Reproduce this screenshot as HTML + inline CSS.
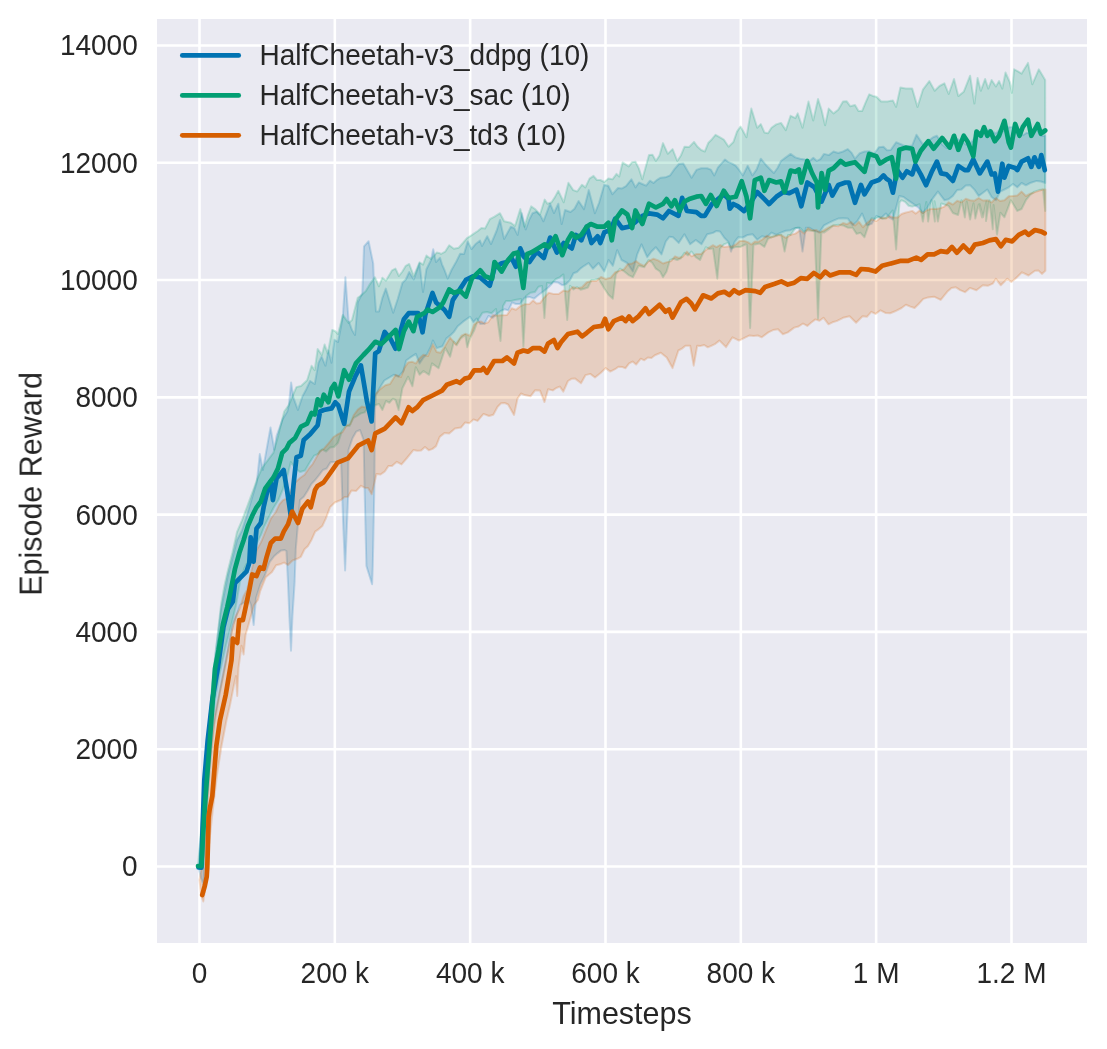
<!DOCTYPE html>
<html><head><meta charset="utf-8"><style>
html,body{margin:0;padding:0;background:#fff;width:1107px;height:1049px;overflow:hidden;}
svg{display:block;font-family:"Liberation Sans",sans-serif;will-change:transform;}
</style></head><body>
<svg width="1107" height="1049" viewBox="0 0 1107 1049" font-family="'Liberation Sans', sans-serif" fill="#262626">
<defs><clipPath id="c"><rect x="157" y="19" width="930" height="924"/></clipPath></defs>
<rect x="157" y="19" width="930" height="924" fill="#EAEAF2"/>
<line x1="199.50" y1="19" x2="199.50" y2="943" stroke="#fff" stroke-width="2.6"/>
<line x1="334.83" y1="19" x2="334.83" y2="943" stroke="#fff" stroke-width="2.6"/>
<line x1="470.16" y1="19" x2="470.16" y2="943" stroke="#fff" stroke-width="2.6"/>
<line x1="605.49" y1="19" x2="605.49" y2="943" stroke="#fff" stroke-width="2.6"/>
<line x1="740.82" y1="19" x2="740.82" y2="943" stroke="#fff" stroke-width="2.6"/>
<line x1="876.15" y1="19" x2="876.15" y2="943" stroke="#fff" stroke-width="2.6"/>
<line x1="1011.48" y1="19" x2="1011.48" y2="943" stroke="#fff" stroke-width="2.6"/>
<line x1="157" y1="866.50" x2="1087" y2="866.50" stroke="#fff" stroke-width="2.6"/>
<line x1="157" y1="749.21" x2="1087" y2="749.21" stroke="#fff" stroke-width="2.6"/>
<line x1="157" y1="631.92" x2="1087" y2="631.92" stroke="#fff" stroke-width="2.6"/>
<line x1="157" y1="514.63" x2="1087" y2="514.63" stroke="#fff" stroke-width="2.6"/>
<line x1="157" y1="397.34" x2="1087" y2="397.34" stroke="#fff" stroke-width="2.6"/>
<line x1="157" y1="280.05" x2="1087" y2="280.05" stroke="#fff" stroke-width="2.6"/>
<line x1="157" y1="162.76" x2="1087" y2="162.76" stroke="#fff" stroke-width="2.6"/>
<line x1="157" y1="45.47" x2="1087" y2="45.47" stroke="#fff" stroke-width="2.6"/>
<g clip-path="url(#c)">
<polygon points="198.5,867.0 202.0,820.0 205.0,775.0 208.0,735.0 212.0,690.0 216.0,650.0 221.0,610.0 224.5,592.2 228.0,575.0 232.5,557.9 237.0,540.0 242.0,530.5 247.0,515.0 251.9,498.3 256.8,482.0 259.8,454.1 262.9,470.0 266.7,448.8 270.5,427.5 274.3,449.6 276.6,435.9 282.7,419.1 287.3,411.5 288.8,405.4 291.1,382.5 293.4,397.7 297.9,409.9 302.5,396.2 306.3,389.2 310.1,381.0 314.7,384.0 318.5,362.7 321.6,356.6 325.4,365.7 328.4,350.5 331.5,362.7 334.5,339.8 338.0,342.0 341.7,323.0 342.9,315.0 345.4,277.2 348.6,320.7 352.0,330.0 355.0,335.0 357.7,302.4 362.3,293.2 364.0,246.3 368.6,241.2 373.2,263.5 374.0,284.0 376.0,311.5 378.9,311.5 382.4,297.8 385.8,288.6 389.5,300.7 393.2,312.7 397.8,298.7 402.4,282.9 405.8,279.5 409.2,272.0 413.8,279.5 419.5,263.5 423.0,292.0 426.4,269.2 431.0,260.0 433.2,249.2 436.0,262.0 440.0,257.7 442.0,264.3 444.5,270.0 447.7,278.6 451.5,270.0 456.3,261.5 460.1,253.8 464.0,254.0 467.7,241.4 471.5,249.0 475.3,244.3 480.0,240.5 482.0,246.0 487.2,236.2 491.0,244.0 496.7,230.5 500.0,220.0 504.1,238.9 510.8,226.7 514.2,228.0 517.6,234.9 521.7,213.2 525.7,229.4 529.1,219.9 532.5,213.2 536.6,211.7 540.7,215.9 543.4,221.3 550.1,203.7 554.0,213.0 558.3,203.7 561.7,224.0 565.0,210.0 570.5,212.0 574.5,208.7 578.6,201.0 584.0,209.1 588.8,190.1 594.9,213.2 599.0,203.0 604.3,184.7 608.4,186.0 612.5,194.2 618.0,188.0 622.0,188.4 626.0,186.1 631.4,179.3 635.5,187.4 638.9,182.5 642.3,184.0 646.1,185.7 650.0,180.7 653.5,183.0 657.1,179.8 660.6,177.7 665.4,177.3 670.2,175.3 674.6,168.9 678.9,164.0 683.3,163.4 687.5,170.7 691.6,177.7 696.4,169.9 701.2,168.2 707.2,168.2 710.8,169.6 714.3,175.4 717.9,167.6 721.5,163.4 725.0,159.5 728.6,162.2 732.2,163.7 735.8,165.8 739.3,170.2 742.9,175.4 747.7,165.8 752.4,175.4 756.6,169.4 760.8,158.7 766.7,165.8 770.3,169.5 773.9,173.0 777.5,168.0 781.0,161.0 785.8,157.4 790.6,153.9 795.4,157.4 800.1,158.7 804.9,159.6 809.7,161.0 813.3,157.7 816.9,160.9 820.4,159.1 824.0,153.9 828.8,155.1 833.5,151.5 838.2,153.0 843.0,151.5 847.8,149.1 851.4,152.6 855.0,158.7 859.8,153.2 864.5,151.5 869.2,151.2 874.0,153.9 878.8,147.3 883.5,146.7 887.1,150.2 890.7,150.0 896.1,142.3 901.5,144.4 905.7,146.5 912.2,145.5 916.5,134.7 922.9,144.4 929.3,140.1 933.1,137.3 936.9,135.8 942.2,144.4 946.5,147.9 950.8,146.5 957.2,139.0 961.5,140.9 965.8,144.4 970.1,144.4 974.4,138.0 980.8,131.5 985.1,132.9 989.4,129.4 995.9,133.7 1000.1,129.1 1004.4,131.5 1008.7,127.3 1013.0,127.2 1019.5,131.5 1023.1,135.1 1026.6,132.8 1030.2,133.7 1036.6,129.4 1040.9,136.0 1045.2,135.8 1045.2,183.0 1040.9,181.5 1036.6,180.9 1030.2,183.0 1025.9,185.3 1021.6,183.0 1017.3,187.3 1013.0,184.0 1008.7,187.3 1004.5,189.5 1000.2,191.6 995.9,200.2 991.6,197.0 987.3,189.5 983.0,192.8 978.7,195.9 974.4,189.6 970.1,185.2 965.8,185.5 961.5,189.5 957.2,190.0 952.9,195.9 948.6,199.3 944.4,200.2 937.9,191.6 931.5,200.2 927.2,207.9 922.9,213.0 918.6,207.8 914.3,204.5 907.9,200.2 903.6,197.0 899.3,195.9 892.9,219.5 889.4,217.6 885.9,213.5 881.1,218.0 876.4,215.9 871.6,223.9 866.9,225.4 862.1,213.5 857.4,221.0 852.6,225.4 847.8,218.6 843.0,218.3 838.2,218.6 833.5,220.6 828.8,222.8 824.0,225.4 819.2,232.6 814.5,230.9 809.7,227.8 805.9,227.8 802.5,251.6 799.1,227.8 797.7,227.8 794.2,228.4 790.6,230.2 785.8,230.7 781.0,232.6 776.2,234.8 771.5,232.6 766.7,237.3 762.0,236.2 757.2,239.7 752.5,234.2 747.7,234.9 742.9,237.5 738.1,237.3 734.5,242.1 731.0,251.6 728.6,242.1 724.3,237.7 720.0,231.5 716.5,230.9 713.0,232.9 707.2,234.3 701.5,244.3 695.8,240.0 690.1,244.3 684.4,234.3 678.7,242.9 673.0,237.2 669.4,236.8 665.8,241.5 661.5,254.4 655.8,247.2 651.5,251.5 647.2,257.2 641.5,244.4 637.2,254.4 632.9,271.5 627.2,263.0 621.5,260.0 617.2,250.1 612.9,265.8 608.6,260.0 604.3,271.5 598.6,263.0 592.9,268.7 588.6,263.0 584.3,265.8 580.6,268.4 577.0,272.0 573.5,273.3 570.0,280.1 566.0,284.1 562.1,285.2 558.1,282.6 553.4,282.1 548.6,287.3 543.9,291.0 539.1,294.5 534.3,298.6 529.5,296.9 524.8,297.4 520.0,304.0 515.9,304.0 512.1,302.6 508.3,310.4 504.5,309.3 500.7,310.9 496.9,314.0 492.7,317.8 488.5,316.0 484.4,323.7 480.2,324.0 476.8,318.5 473.4,322.0 470.0,316.7 463.4,321.4 457.7,326.2 453.9,331.9 451.0,334.8 446.3,338.6 442.5,346.2 436.7,348.1 432.9,340.5 431.0,346.2 427.2,353.9 423.4,357.7 419.6,363.4 415.8,353.9 410.0,357.7 406.2,360.5 403.4,371.0 398.6,376.7 393.8,374.8 389.1,377.7 384.3,380.5 379.5,388.2 376.0,395.0 375.0,410.0 374.4,486.0 372.8,566.0 372.1,584.3 366.4,566.0 364.5,486.0 363.6,440.0 360.0,430.0 356.3,431.6 352.6,438.0 348.5,450.0 348.1,497.0 345.1,570.5 343.0,520.0 341.2,463.0 337.8,462.1 334.3,462.0 330.5,462.2 326.7,468.5 322.9,470.0 319.1,475.1 315.2,480.0 311.4,484.0 307.6,490.7 303.8,496.8 300.0,500.0 295.8,549.0 294.6,583.0 292.4,617.0 291.0,650.8 289.4,617.0 288.0,583.0 286.4,551.0 284.6,550.0 281.2,550.4 277.7,553.1 274.3,556.0 269.6,562.1 265.0,575.0 260.5,584.0 256.0,598.0 253.7,625.0 251.0,605.0 248.0,598.0 244.0,602.7 240.0,605.0 236.4,616.1 232.9,625.0 229.4,643.3 226.0,662.0 220.0,692.0 214.0,725.0 210.0,765.0 207.0,805.0 205.0,855.0 203.5,885.0 201.0,878.0 198.5,867.0" fill="#0173B2" fill-opacity="0.2" stroke="#0173B2" stroke-opacity="0.2" stroke-width="2.0" stroke-linejoin="round"/>
<polygon points="198.0,866.0 201.0,830.0 204.0,790.0 207.0,750.0 210.0,712.0 213.0,675.0 217.0,640.0 221.0,605.0 224.5,585.2 228.0,570.0 232.5,552.3 237.0,532.0 242.0,520.4 247.0,507.0 250.5,497.4 254.0,488.0 256.8,480.0 262.0,468.0 268.0,460.0 273.5,452.6 278.1,435.9 284.2,411.5 288.8,405.0 293.0,395.0 296.4,387.1 301.0,386.0 307.1,380.2 311.6,365.7 314.7,370.2 317.7,349.0 321.9,355.0 324.6,344.4 327.7,353.5 332.2,329.9 335.0,331.0 338.0,334.0 342.9,315.0 348.6,323.0 352.0,320.0 357.7,297.8 361.0,295.5 365.8,291.0 369.2,285.2 374.9,277.2 378.9,286.3 382.3,277.8 386.0,280.6 392.1,270.3 395.5,268.6 398.9,276.0 402.4,271.5 405.8,265.8 409.2,264.0 413.8,276.0 419.5,262.3 423.0,264.6 426.4,255.5 431.0,259.0 436.7,252.6 440.0,253.2 441.0,254.0 445.1,251.7 449.2,245.3 453.9,248.7 458.7,247.7 462.9,243.0 467.0,238.1 470.6,235.8 474.2,233.4 477.8,231.0 481.4,228.0 485.0,228.6 489.8,219.2 494.5,216.7 500.0,213.2 504.1,221.3 510.8,222.7 515.0,226.0 520.3,209.1 524.4,226.7 527.8,215.6 531.2,206.4 535.0,209.0 540.0,214.5 544.7,199.6 547.4,203.7 551.5,202.3 554.9,197.1 558.3,190.8 563.7,202.3 568.4,182.7 573.2,190.1 577.2,191.5 582.0,184.7 585.4,187.4 589.5,178.6 593.5,175.9 596.9,180.0 600.3,180.0 604.3,182.0 608.4,178.6 612.5,179.3 616.5,173.9 619.2,176.6 622.6,162.4 628.7,166.4 632.1,162.2 635.5,161.7 638.9,168.6 642.3,179.3 649.0,154.9 652.5,154.7 655.9,161.0 659.5,155.5 663.0,143.1 667.8,153.8 672.6,149.1 677.3,161.0 680.9,155.5 684.5,146.7 689.2,146.9 694.0,141.9 697.6,146.8 701.2,150.0 704.8,151.5 708.4,142.7 711.9,139.2 715.5,134.8 719.6,137.2 723.8,139.6 728.6,146.7 733.4,142.0 737.0,131.6 740.5,126.5 746.5,137.2 751.3,108.6 757.2,127.7 760.8,124.1 764.4,132.4 768.0,133.2 771.5,127.7 776.2,124.4 781.0,122.9 785.8,130.1 790.6,115.8 795.4,118.1 797.7,113.4 802.5,127.7 808.5,101.5 813.2,120.5 818.0,99.1 821.5,109.8 825.1,125.3 828.7,108.6 833.5,113.4 838.2,109.7 843.0,101.5 846.6,101.2 850.2,106.2 855.0,105.0 858.5,111.0 862.1,111.0 865.7,102.3 869.2,94.3 872.8,95.9 876.4,96.7 881.2,101.5 887.5,101.5 892.9,100.4 896.1,106.9 900.4,87.5 905.7,88.6 912.2,88.6 917.5,106.9 922.9,89.7 929.3,81.1 934.7,90.8 939.5,86.0 944.4,83.3 948.7,94.0 954.0,79.0 958.3,96.1 963.7,91.8 970.1,75.7 974.4,103.6 977.6,77.9 980.8,90.8 985.1,79.0 988.3,88.6 991.6,80.0 995.9,86.5 999.1,81.1 1002.3,88.6 1005.5,72.5 1009.8,82.2 1011.9,92.9 1014.1,69.3 1017.9,71.3 1021.6,73.6 1028.0,62.9 1032.3,84.3 1038.8,69.3 1045.2,80.0 1045.2,210.9 1043.0,189.5 1038.8,190.1 1034.5,191.6 1030.2,194.9 1025.9,200.2 1021.6,209.0 1017.3,210.9 1010.9,200.2 1004.4,217.3 1000.4,212.7 997.0,234.5 993.6,205.0 992.8,229.3 989.4,200.2 986.0,221.0 986.4,201.4 983.0,217.3 979.6,204.1 982.1,217.5 978.7,204.5 975.3,218.6 973.5,203.2 970.1,219.5 966.7,201.5 964.9,217.5 961.5,200.2 958.1,215.0 952.9,213.0 948.6,205.9 944.4,204.5 941.3,203.5 937.9,221.6 934.5,201.2 934.9,221.6 931.5,200.2 928.1,221.6 926.3,201.9 922.9,221.6 919.5,204.2 915.9,205.6 912.2,206.6 908.6,205.7 905.1,201.9 901.5,200.2 899.5,202.5 896.1,249.5 892.7,210.4 889.3,214.7 885.9,218.3 882.3,219.0 878.8,216.9 875.2,218.9 871.6,218.3 868.0,226.9 864.5,237.3 860.5,232.8 856.6,233.9 852.6,227.8 847.8,227.7 843.0,225.4 838.2,224.8 833.5,225.4 828.8,229.1 824.0,232.6 821.4,232.2 818.0,318.4 814.6,231.2 811.0,230.8 807.3,230.2 803.7,232.0 800.1,227.8 795.4,228.1 790.6,234.9 788.0,234.9 784.6,251.6 781.2,234.9 778.7,234.9 775.1,236.3 771.5,237.3 768.0,238.9 764.4,246.9 759.6,243.5 754.8,244.5 753.5,244.5 750.1,327.9 746.7,244.5 745.3,244.5 740.5,246.9 735.8,246.9 731.8,248.4 727.8,242.8 723.8,244.5 720.0,248.6 717.3,278.7 713.0,248.6 709.4,249.0 705.8,247.2 700.0,260.0 695.8,257.2 691.5,251.5 688.0,255.4 684.4,252.9 680.8,258.4 677.2,260.0 673.6,258.7 670.0,260.0 666.5,271.8 663.0,277.2 660.0,271.5 655.8,268.7 652.2,262.7 648.6,260.0 644.3,267.2 638.6,265.8 632.9,277.2 628.6,275.1 624.3,271.5 620.0,268.7 615.8,274.4 612.9,298.7 608.5,294.7 604.0,288.0 598.6,278.7 595.0,279.8 591.5,280.0 587.9,287.6 584.3,288.7 580.6,289.8 577.0,287.0 573.5,289.5 570.0,285.8 567.2,320.0 563.4,274.4 559.7,277.3 556.0,279.0 551.5,283.4 547.0,283.0 544.4,318.0 542.0,286.0 538.5,286.8 535.0,292.0 530.5,292.7 526.0,296.0 523.4,346.8 521.0,299.0 515.0,300.0 510.5,301.1 506.0,301.0 503.0,306.0 500.5,341.0 496.0,309.0 491.5,313.2 487.0,312.0 482.5,312.8 478.0,320.0 474.0,330.8 470.0,338.6 467.2,347.2 465.3,334.8 460.6,338.6 456.7,345.3 453.9,341.5 450.1,356.7 445.3,348.1 438.6,368.2 432.0,363.4 429.1,374.8 423.5,371.0 419.6,374.8 415.8,367.2 412.4,386.3 408.1,376.7 402.4,388.2 398.6,410.0 395.5,400.0 392.9,398.7 389.4,402.8 386.0,401.0 382.4,410.0 379.0,404.0 375.7,405.0 372.1,406.8 368.6,406.0 364.7,412.4 360.9,413.4 357.0,416.0 353.3,418.1 349.7,425.9 346.0,426.0 342.0,431.1 338.0,442.7 334.0,447.0 330.1,447.6 326.1,451.5 322.2,449.4 318.3,453.8 314.1,455.7 310.0,462.0 305.0,470.5 300.0,472.0 295.0,468.0 290.8,462.0 287.9,474.3 283.2,488.6 278.4,500.0 273.6,507.7 268.8,517.2 264.1,526.8 261.2,534.4 256.0,545.0 252.3,549.2 248.6,560.0 244.3,568.5 240.0,582.0 236.0,605.2 232.0,622.0 226.0,645.0 220.0,672.0 215.0,700.0 211.0,735.0 208.0,770.0 205.0,810.0 203.0,850.0 201.0,868.0 198.0,866.0" fill="#029E73" fill-opacity="0.2" stroke="#029E73" stroke-opacity="0.2" stroke-width="2.0" stroke-linejoin="round"/>
<polygon points="199.5,880.0 203.0,860.0 205.0,840.0 207.0,805.0 209.0,770.0 212.0,740.0 215.0,715.0 220.0,690.0 226.0,660.0 232.0,630.0 236.0,615.6 240.0,608.0 243.5,596.3 247.0,590.0 251.8,569.2 256.7,550.0 261.4,541.3 266.0,530.0 270.9,518.5 275.8,512.0 279.4,504.3 283.0,500.1 286.5,498.8 290.1,492.0 295.1,482.5 300.0,478.0 304.6,474.7 309.2,468.0 312.6,464.1 316.0,458.0 319.8,451.0 323.5,449.1 328.5,443.3 333.5,437.0 338.1,434.1 342.6,432.0 346.3,425.7 350.1,424.1 353.8,415.0 357.8,409.6 361.8,406.6 365.8,407.4 370.8,403.7 375.7,393.9 380.5,388.9 385.3,385.3 390.0,384.0 395.7,374.8 401.0,377.0 404.6,367.6 408.1,362.4 412.0,361.7 415.8,363.4 419.6,358.2 423.4,354.8 428.0,356.0 432.9,344.3 436.7,352.0 440.5,352.8 444.4,347.2 450.1,337.6 455.8,344.3 461.5,335.7 465.3,333.8 470.0,335.7 474.1,324.6 477.6,322.0 481.1,321.5 484.7,323.5 488.2,322.3 492.9,315.2 497.6,315.5 502.3,315.2 507.0,314.9 511.7,308.2 515.9,309.7 520.0,306.4 524.8,304.2 529.5,304.0 533.1,300.4 536.6,303.4 540.2,302.9 543.8,298.0 548.8,292.8 553.9,294.1 558.6,294.0 563.3,290.6 568.0,291.4 572.7,287.0 577.4,288.2 582.0,287.3 586.8,282.2 591.5,281.0 596.2,281.1 601.0,277.0 605.8,279.0 610.6,277.8 615.4,272.1 620.1,270.6 624.1,269.2 628.0,263.9 632.0,263.5 636.0,261.1 640.0,264.0 644.0,265.9 648.8,261.1 653.5,258.7 658.2,260.4 663.0,263.5 667.0,262.1 671.0,261.1 675.0,256.3 679.0,258.0 682.9,256.5 686.9,251.6 691.6,256.3 696.4,254.0 701.1,254.0 705.9,250.0 709.4,247.4 713.0,245.2 716.5,247.1 720.0,245.0 723.8,246.9 727.8,246.4 731.8,246.5 735.8,244.5 739.8,240.9 743.7,240.7 747.7,242.1 751.3,244.4 754.9,241.6 758.4,241.7 762.0,239.7 766.8,235.7 771.5,237.3 776.2,235.4 781.0,234.9 785.8,237.8 790.6,234.9 795.4,233.6 800.1,230.2 804.1,233.6 808.0,228.1 812.0,230.2 816.0,229.9 820.0,232.3 824.0,230.2 828.8,227.4 833.5,225.4 838.2,226.2 843.0,223.0 847.0,224.2 851.0,221.9 855.0,225.4 859.0,221.8 862.9,227.2 866.9,223.0 871.6,219.3 876.4,221.0 881.1,217.5 885.9,218.3 889.8,216.1 893.7,217.6 897.6,217.6 901.5,214.0 905.1,212.8 908.6,211.9 912.2,210.9 915.8,213.6 919.3,210.7 922.9,213.0 927.2,210.0 931.5,208.8 935.8,208.9 940.1,208.3 944.4,206.6 948.6,202.3 952.9,204.5 957.2,200.7 961.5,202.3 965.8,198.7 970.1,200.2 974.4,200.7 978.7,198.0 983.0,200.5 987.3,200.2 991.6,202.4 995.9,198.0 1000.1,201.0 1004.4,200.2 1008.7,196.3 1013.0,195.9 1017.3,195.6 1021.6,191.6 1025.9,196.0 1030.2,193.7 1036.6,191.6 1043.0,189.5 1045.4,189.5 1045.4,270.7 1041.9,273.9 1038.5,270.6 1035.0,270.7 1028.5,275.5 1022.0,272.3 1015.4,278.8 1011.3,282.0 1007.3,278.8 1000.8,285.3 995.9,278.8 992.7,283.7 987.8,285.8 982.9,285.3 976.4,290.2 969.9,287.9 965.0,292.2 960.2,290.2 955.9,287.3 951.5,288.0 947.2,291.8 940.7,299.9 934.1,296.7 927.6,297.6 923.3,298.9 918.9,303.7 914.6,308.0 910.3,306.6 905.9,304.8 901.6,308.0 895.1,311.3 890.2,313.2 885.4,312.9 880.5,310.3 875.6,313.9 871.3,311.8 866.9,316.8 862.6,316.2 856.1,322.7 849.6,316.2 843.1,317.8 836.6,321.1 832.5,322.3 828.5,324.3 823.6,317.8 819.5,320.8 815.4,319.4 811.3,322.5 807.3,325.9 803.0,323.5 798.6,326.5 794.3,327.6 787.8,332.4 782.9,334.2 778.0,329.2 773.1,330.1 768.3,332.4 761.8,337.3 757.7,335.5 753.6,336.1 749.6,335.4 745.5,337.3 739.0,340.6 732.5,337.3 726.0,347.1 719.5,340.6 715.4,343.8 711.3,345.8 707.8,347.3 704.2,345.0 700.7,345.9 697.2,345.8 693.7,365.7 690.2,345.8 685.5,345.8 682.0,348.6 678.4,350.5 672.5,368.1 666.7,357.5 660.8,352.8 654.9,355.2 651.4,358.0 647.9,357.5 644.3,360.3 640.8,358.7 636.1,364.5 632.6,361.6 629.1,363.4 625.5,368.2 622.0,366.9 618.5,366.7 615.0,369.2 610.3,371.6 605.6,368.1 600.9,372.8 595.0,377.5 590.3,373.9 585.6,375.1 581.0,383.3 575.1,378.6 571.5,378.8 568.0,381.0 563.3,391.6 559.8,386.6 556.3,388.0 552.8,390.4 548.1,389.2 544.5,402.1 539.9,390.4 535.2,390.2 530.5,396.3 524.6,395.1 521.0,393.5 517.5,398.6 514.0,415.0 508.1,404.5 504.6,402.9 501.1,403.3 497.6,406.8 493.3,414.7 489.0,416.0 483.5,413.9 477.6,420.9 473.5,419.4 469.4,423.3 465.2,422.4 461.1,427.4 455.0,428.5 449.2,433.4 444.4,433.1 439.7,436.9 436.1,446.1 432.5,448.9 428.8,450.3 425.0,447.0 421.1,450.4 417.3,450.7 413.4,450.1 407.0,458.0 401.5,464.4 396.8,461.8 392.0,466.0 388.4,466.1 384.8,471.5 380.6,474.5 376.5,473.9 371.7,494.2 368.1,487.9 364.6,487.7 361.0,485.8 356.2,490.9 351.5,490.6 348.0,496.8 344.5,497.0 341.0,500.0 334.8,502.5 330.0,507.3 325.9,518.3 322.3,526.1 318.8,529.1 315.2,531.6 311.6,539.7 308.0,546.0 304.5,549.2 300.9,556.8 297.3,558.8 292.6,560.5 288.0,565.0 284.1,562.6 280.1,564.3 276.1,565.2 272.0,572.0 265.8,577.2 260.1,591.5 257.9,600.0 254.0,605.0 252.0,612.0 248.6,624.4 245.5,635.0 243.6,654.4 241.5,645.8 238.5,668.0 237.2,695.9 236.0,676.0 234.0,685.0 230.0,705.0 226.5,720.3 221.5,746.0 217.0,775.0 212.9,808.9 209.0,845.0 207.2,872.0 205.0,890.0 203.3,901.4 201.0,895.0 199.5,880.0" fill="#D55E00" fill-opacity="0.2" stroke="#D55E00" stroke-opacity="0.2" stroke-width="2.0" stroke-linejoin="round"/>
<polyline points="198.5,867.5 201.4,867.6 202.5,830.0 204.3,780.3 207.7,740.2 212.3,700.0 218.0,667.0 223.5,627.0 228.0,609.0 232.9,601.5 235.0,583.1 240.7,577.4 246.4,571.7 249.3,563.1 250.7,537.3 253.6,561.6 256.5,528.7 260.8,523.0 263.6,507.3 267.9,488.7 270.8,481.5 272.9,500.1 276.5,478.6 283.7,470.1 287.0,490.0 290.8,515.8 293.5,485.0 296.5,457.2 300.8,455.7 303.7,440.0 310.1,434.3 317.7,425.2 320.0,411.5 323.8,410.0 331.5,408.4 335.3,402.3 338.3,405.4 344.2,423.8 349.0,391.6 354.9,377.3 360.9,365.4 366.9,401.2 371.6,421.4 375.2,353.5 378.8,351.1 384.7,332.0 390.7,339.2 395.5,348.7 403.9,319.2 408.7,313.2 418.2,313.2 422.5,332.3 425.4,314.4 432.5,293.0 436.1,302.5 444.4,309.7 449.2,316.8 452.8,300.1 459.0,290.6 465.9,279.9 473.0,276.3 480.2,277.5 489.7,285.8 494.5,268.0 501.6,263.2 507.0,262.0 511.2,257.2 515.9,266.7 520.3,248.4 523.7,256.5 529.5,262.0 536.7,251.6 543.8,258.0 550.1,237.6 556.9,252.5 563.7,243.0 571.8,248.4 575.9,234.9 581.3,240.3 586.7,226.7 591.5,243.0 597.6,236.2 600.3,243.0 604.3,232.2 610.6,230.0 615.2,218.6 622.0,228.1 628.7,226.7 635.5,222.0 642.3,215.9 649.0,213.4 657.1,214.6 663.0,218.2 669.0,211.0 678.5,215.8 682.1,197.9 686.9,211.0 696.4,212.2 701.2,215.8 704.8,215.9 711.9,204.0 723.8,194.4 728.6,199.2 729.8,208.7 733.4,204.0 738.1,206.3 744.1,211.1 751.3,201.6 757.2,192.0 764.4,199.2 769.1,204.0 776.3,196.8 783.4,192.0 789.4,193.2 796.5,189.7 801.3,206.3 807.3,182.5 814.4,187.3 821.6,201.6 828.7,184.9 832.3,195.6 838.3,184.9 845.4,182.5 849.0,182.5 855.0,202.8 860.9,184.9 864.5,194.4 871.6,182.5 878.8,180.1 883.5,175.4 886.4,178.7 889.7,180.9 892.9,192.7 897.2,170.1 902.5,177.7 906.8,171.2 912.2,174.4 915.4,164.8 920.8,174.4 926.1,185.2 931.5,172.3 936.9,161.6 941.1,173.4 946.5,174.4 952.9,180.9 958.3,165.9 964.7,170.1 968.0,170.1 973.3,159.4 979.8,173.4 987.3,161.6 991.6,174.4 994.8,173.4 998.0,191.6 1002.3,163.7 1004.4,177.7 1008.7,165.9 1015.2,168.0 1017.3,170.1 1021.6,161.6 1028.0,158.3 1031.3,166.9 1034.5,157.3 1038.8,166.9 1041.3,155.1 1044.8,170.1" fill="none" stroke="#0173B2" stroke-width="4.7" stroke-linejoin="round" stroke-linecap="round"/>
<polyline points="198.0,866.1 201.4,866.1 202.9,837.5 205.7,794.6 208.6,757.4 211.5,717.3 215.0,668.7 218.6,650.0 222.9,624.4 227.2,607.2 230.0,594.3 235.0,568.8 239.3,553.1 243.6,540.2 247.9,525.9 252.2,515.8 256.5,507.3 260.8,501.5 265.1,488.7 269.3,482.9 273.6,477.2 277.9,468.6 282.2,452.9 286.5,448.6 289.4,442.9 295.1,438.0 301.0,426.7 307.1,423.7 311.6,413.0 314.7,414.5 317.7,399.3 320.8,405.4 323.8,394.7 328.4,402.3 331.5,388.6 334.5,384.0 338.3,396.4 344.2,370.2 349.0,379.7 356.1,363.0 363.4,355.0 368.1,350.2 375.3,341.8 381.3,344.2 388.4,337.1 395.6,329.9 399.1,349.0 403.9,331.1 408.7,321.6 413.4,331.1 417.0,316.8 424.2,313.2 427.7,309.7 432.5,312.0 439.7,307.3 443.2,302.5 449.2,289.4 454.0,293.0 459.9,290.6 465.9,296.5 471.8,278.7 480.2,270.3 485.0,276.3 492.1,278.7 494.5,262.0 501.6,271.5 508.1,260.0 513.6,253.6 517.6,252.5 523.3,288.0 527.2,254.0 531.2,252.5 537.9,248.4 544.7,244.3 548.8,247.0 555.6,236.2 562.3,255.2 567.8,240.3 571.8,233.5 575.9,237.6 581.3,234.9 586.7,226.7 590.8,224.0 597.6,226.7 604.3,226.7 608.4,222.7 611.8,240.3 615.2,219.9 622.0,210.5 627.4,214.5 632.1,228.1 635.5,210.5 642.3,224.0 649.0,203.7 655.9,207.5 663.0,203.9 666.6,199.1 671.4,206.3 674.9,200.3 679.7,211.0 684.5,201.5 689.2,199.1 696.4,196.7 701.2,196.0 705.9,203.9 710.7,195.0 716.7,206.0 723.8,190.8 728.6,198.0 735.8,196.8 741.7,181.3 746.5,196.8 750.1,218.3 754.8,180.1 760.8,177.7 764.4,190.8 769.1,180.1 776.3,182.5 781.0,181.3 784.6,192.0 790.6,170.6 795.4,171.8 798.9,169.4 801.3,182.5 807.3,161.0 812.0,173.0 816.8,182.5 818.0,207.5 821.6,173.0 825.1,189.7 828.7,170.6 833.5,168.2 840.6,161.0 845.4,164.6 850.2,163.4 854.9,162.2 864.5,171.8 869.2,153.9 876.4,156.3 880.0,163.5 886.4,159.4 891.8,157.3 896.1,178.7 899.3,149.8 905.7,147.6 912.2,148.7 915.4,161.6 920.8,150.8 928.3,141.2 933.6,148.7 942.2,138.0 949.7,147.6 954.0,135.8 958.3,149.8 963.7,135.8 968.0,142.3 973.3,156.2 976.5,131.5 980.8,135.8 984.1,127.2 987.3,135.8 990.5,131.5 994.8,141.2 999.1,135.8 1004.4,120.8 1008.7,142.3 1010.9,147.6 1015.2,124.0 1019.5,135.8 1022.7,127.2 1028.0,119.7 1031.3,135.8 1037.7,124.0 1040.9,133.7 1045.2,130.5" fill="none" stroke="#029E73" stroke-width="4.7" stroke-linejoin="round" stroke-linecap="round"/>
<polyline points="202.2,895.0 204.9,885.5 206.7,876.8 207.3,866.8 208.0,842.0 208.6,817.2 209.8,808.5 212.3,796.1 216.3,746.0 220.0,720.2 225.8,694.4 231.5,660.1 232.9,638.7 237.2,642.9 239.2,620.1 242.9,620.1 249.3,590.1 252.2,574.5 256.5,576.0 260.0,567.4 263.6,568.8 266.5,557.4 270.8,543.0 275.1,538.7 280.8,538.7 283.7,531.6 288.0,524.4 292.2,511.6 298.0,523.0 302.3,508.7 308.0,501.5 310.8,507.3 315.0,490.1 317.5,486.1 323.5,482.5 330.3,473.0 337.5,462.7 347.9,458.4 358.6,445.3 368.1,440.5 371.7,450.1 375.3,433.4 384.8,428.6 395.6,417.4 401.5,423.3 408.7,407.3 412.2,411.0 417.0,407.4 423.0,400.2 432.5,395.5 442.0,390.7 446.8,384.7 456.3,381.2 460.0,383.0 464.7,378.6 469.4,377.5 474.1,370.4 481.1,370.4 483.5,368.1 487.0,372.8 494.1,361.0 502.3,361.0 507.0,357.5 514.0,363.4 517.5,352.8 523.4,350.5 528.1,351.6 532.8,348.1 539.9,348.1 544.5,351.6 548.1,343.4 553.9,339.9 557.5,348.1 561.0,342.2 568.0,334.0 577.4,331.7 582.1,336.4 586.8,332.8 593.9,327.0 602.1,325.8 605.1,318.8 608.4,329.3 613.8,321.1 622.0,317.6 625.6,321.1 629.1,316.4 632.6,321.1 638.5,316.4 645.5,308.2 649.1,314.1 659.6,304.7 665.5,311.7 669.0,309.4 672.5,317.6 680.8,302.3 686.6,298.8 691.3,303.5 694.9,309.4 703.1,295.3 711.3,298.5 717.9,293.4 724.4,291.8 729.3,295.0 734.1,290.2 739.0,293.4 745.5,290.2 755.3,291.1 760.2,292.8 765.0,286.9 774.8,283.7 781.3,281.4 787.8,284.6 794.3,282.7 800.8,278.1 807.3,278.8 813.8,272.9 820.3,277.2 825.2,271.6 830.1,275.5 839.8,272.3 849.6,272.3 856.1,274.9 861.0,269.0 869.1,269.7 875.6,271.6 882.1,265.8 891.9,263.2 900.0,260.9 908.1,260.9 916.3,257.6 921.1,259.9 927.6,254.4 934.1,254.4 940.7,251.1 947.2,252.1 952.0,246.9 956.9,252.8 963.4,245.6 969.9,252.1 974.8,244.6 982.9,243.0 989.4,240.4 995.9,239.1 1000.8,246.3 1005.7,239.8 1012.2,241.4 1018.7,234.9 1025.2,231.6 1028.5,234.9 1035.0,230.0 1041.5,231.6 1044.7,233.3" fill="none" stroke="#D55E00" stroke-width="4.7" stroke-linejoin="round" stroke-linecap="round"/>
</g>
<line x1="182.3" y1="55.4" x2="238.7" y2="55.4" stroke="#0173B2" stroke-width="4.7" stroke-linecap="round"/>
<text transform="translate(259.6,65.1) scale(1,1.04)" font-size="28">HalfCheetah-v3_ddpg (10)</text>
<line x1="182.3" y1="95.4" x2="238.7" y2="95.4" stroke="#029E73" stroke-width="4.7" stroke-linecap="round"/>
<text transform="translate(259.6,105.1) scale(1,1.04)" font-size="28">HalfCheetah-v3_sac (10)</text>
<line x1="182.3" y1="135.3" x2="238.7" y2="135.3" stroke="#D55E00" stroke-width="4.7" stroke-linecap="round"/>
<text transform="translate(259.6,144.9) scale(1,1.04)" font-size="28">HalfCheetah-v3_td3 (10)</text>
<text transform="translate(137.7,876.4) scale(1,1.04)" font-size="28" text-anchor="end">0</text>
<text transform="translate(137.7,759.1) scale(1,1.04)" font-size="28" text-anchor="end">2000</text>
<text transform="translate(137.7,641.8) scale(1,1.04)" font-size="28" text-anchor="end">4000</text>
<text transform="translate(137.7,524.5) scale(1,1.04)" font-size="28" text-anchor="end">6000</text>
<text transform="translate(137.7,407.2) scale(1,1.04)" font-size="28" text-anchor="end">8000</text>
<text transform="translate(137.7,289.9) scale(1,1.04)" font-size="28" text-anchor="end">10000</text>
<text transform="translate(137.7,172.7) scale(1,1.04)" font-size="28" text-anchor="end">12000</text>
<text transform="translate(137.7,55.4) scale(1,1.04)" font-size="28" text-anchor="end">14000</text>
<text transform="translate(199.5,982.7) scale(1,1.04)" font-size="28" text-anchor="middle">0</text>
<text transform="translate(334.8,982.7) scale(1,1.04)" font-size="28" text-anchor="middle">200 k</text>
<text transform="translate(470.2,982.7) scale(1,1.04)" font-size="28" text-anchor="middle">400 k</text>
<text transform="translate(605.5,982.7) scale(1,1.04)" font-size="28" text-anchor="middle">600 k</text>
<text transform="translate(740.8,982.7) scale(1,1.04)" font-size="28" text-anchor="middle">800 k</text>
<text transform="translate(876.2,982.7) scale(1,1.04)" font-size="28" text-anchor="middle">1 M</text>
<text transform="translate(1011.5,982.7) scale(1,1.04)" font-size="28" text-anchor="middle">1.2 M</text>
<text transform="translate(622,1024) scale(1,1.04)" font-size="30.5" text-anchor="middle">Timesteps</text>
<text transform="translate(41.7,484) rotate(-90) scale(1,1.04)" x="0" y="0" font-size="30.5" text-anchor="middle">Episode Reward</text>
</svg>
</body></html>
